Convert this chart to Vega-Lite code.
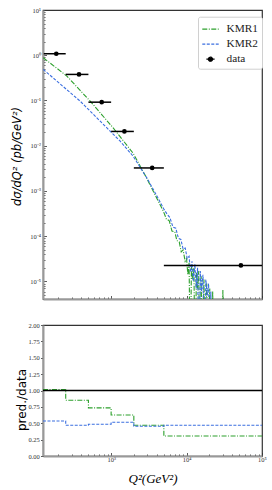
{
  "$schema": "https://vega.github.io/schema/vega-lite/v6.json",
  "padding": {"left": 10, "top": 6, "right": 4, "bottom": 2},
  "background": "white",
  "config": {
    "font": "Liberation Sans Narrow",
    "view": {"stroke": "#333", "strokeWidth": 1.2},
    "axis": {
      "domainColor": "#999", "domainWidth": 2, "tickColor": "#333", "tickWidth": 0.8,
      "labelColor": "#333", "labelFont": "Liberation Sans Narrow", "labelFontSize": 6.5,
      "labelOverlap": false, "labelBound": false, "labelFlush": false, "grid": false,
      "titleFontWeight": "normal", "titleColor": "black"
    }
  },
  "datasets": {
    "curves": [
      {"series": "KMR1", "q2": 126, "v": 0.88},
      {"series": "KMR1", "q2": 180, "v": 0.555},
      {"series": "KMR1", "q2": 259, "v": 0.346},
      {"series": "KMR1", "q2": 380, "v": 0.174},
      {"series": "KMR1", "q2": 528, "v": 0.0966},
      {"series": "KMR1", "q2": 750, "v": 0.0489},
      {"series": "KMR1", "q2": 1064, "v": 0.0248},
      {"series": "KMR1", "q2": 1450, "v": 0.0129},
      {"series": "KMR1", "q2": 1959, "v": 0.00683},
      {"series": "KMR1", "q2": 2972, "v": 0.0019},
      {"series": "KMR1", "q2": 4000, "v": 0.00071},
      {"series": "KMR1", "q2": 4932, "v": 0.000355},
      {"series": "KMR1", "q2": 5400, "v": 0.00024},
      {"series": "KMR1", "q2": 5900, "v": 0.00022},
      {"series": "KMR1", "q2": 6400, "v": 0.00013},
      {"series": "KMR1", "q2": 7000, "v": 0.000125},
      {"series": "KMR1", "q2": 7430, "v": 0.00008},
      {"series": "KMR1", "q2": 8000, "v": 0.000075},
      {"series": "KMR1", "q2": 8500, "v": 0.000045},
      {"series": "KMR1", "q2": 9000, "v": 0.00005},
      {"series": "KMR1", "q2": 9570, "v": 0.000028},
      {"series": "KMR1", "q2": 10000, "v": 0.000032},
      {"series": "KMR1", "q2": 10400, "v": 0.000014},
      {"series": "KMR1", "q2": 10800, "v": 0.000026},
      {"series": "KMR1", "q2": 11200, "v": 0.0000001},
      {"series": "KMR1", "q2": 11600, "v": 0.000022},
      {"series": "KMR1", "q2": 12000, "v": 0.000011},
      {"series": "KMR1", "q2": 12500, "v": 0.00002},
      {"series": "KMR1", "q2": 13000, "v": 0.0000001},
      {"series": "KMR1", "q2": 13500, "v": 0.000016},
      {"series": "KMR1", "q2": 14000, "v": 0.000007},
      {"series": "KMR1", "q2": 14500, "v": 0.000017},
      {"series": "KMR1", "q2": 15000, "v": 0.0000001},
      {"series": "KMR1", "q2": 15600, "v": 0.000013},
      {"series": "KMR1", "q2": 16200, "v": 0.0000001},
      {"series": "KMR1", "q2": 17000, "v": 0.000011},
      {"series": "KMR1", "q2": 17700, "v": 0.0000001},
      {"series": "KMR1", "q2": 18500, "v": 0.000009},
      {"series": "KMR1", "q2": 19400, "v": 0.0000001},
      {"series": "KMR1", "q2": 20300, "v": 0.000007},
      {"series": "KMR1", "q2": 21200, "v": 0.0000001},
      {"series": "KMR1", "q2": 22200, "v": 0.000006},
      {"series": "KMR1", "q2": 23000, "v": 0.0000001},
      {"series": "KMR1", "q2": 29500, "v": 0.0000001},
      {"series": "KMR1", "q2": 30300, "v": 0.0000065},
      {"series": "KMR1", "q2": 31000, "v": 0.0000001},
      {"series": "KMR2", "q2": 126, "v": 0.486},
      {"series": "KMR2", "q2": 191, "v": 0.268},
      {"series": "KMR2", "q2": 270, "v": 0.163},
      {"series": "KMR2", "q2": 389, "v": 0.0966},
      {"series": "KMR2", "q2": 530, "v": 0.0577},
      {"series": "KMR2", "q2": 716, "v": 0.0349},
      {"series": "KMR2", "q2": 1000, "v": 0.02},
      {"series": "KMR2", "q2": 1318, "v": 0.0126},
      {"series": "KMR2", "q2": 1959, "v": 0.00586},
      {"series": "KMR2", "q2": 3000, "v": 0.0019},
      {"series": "KMR2", "q2": 4000, "v": 0.0008},
      {"series": "KMR2", "q2": 5000, "v": 0.0004},
      {"series": "KMR2", "q2": 5500, "v": 0.00031},
      {"series": "KMR2", "q2": 6000, "v": 0.00026},
      {"series": "KMR2", "q2": 6600, "v": 0.00016},
      {"series": "KMR2", "q2": 7200, "v": 0.00015},
      {"series": "KMR2", "q2": 7800, "v": 0.00009},
      {"series": "KMR2", "q2": 8400, "v": 0.000085},
      {"series": "KMR2", "q2": 9000, "v": 0.000052},
      {"series": "KMR2", "q2": 9600, "v": 0.000055},
      {"series": "KMR2", "q2": 10200, "v": 0.000032},
      {"series": "KMR2", "q2": 10800, "v": 0.000036},
      {"series": "KMR2", "q2": 11300, "v": 0.000016},
      {"series": "KMR2", "q2": 11800, "v": 0.000028},
      {"series": "KMR2", "q2": 12300, "v": 0.00001},
      {"series": "KMR2", "q2": 12900, "v": 0.000024},
      {"series": "KMR2", "q2": 13400, "v": 0.000007},
      {"series": "KMR2", "q2": 14000, "v": 0.00002},
      {"series": "KMR2", "q2": 14600, "v": 0.0000001},
      {"series": "KMR2", "q2": 15200, "v": 0.000017},
      {"series": "KMR2", "q2": 15800, "v": 0.000006},
      {"series": "KMR2", "q2": 16500, "v": 0.000014},
      {"series": "KMR2", "q2": 17200, "v": 0.0000001},
      {"series": "KMR2", "q2": 18000, "v": 0.000011},
      {"series": "KMR2", "q2": 18800, "v": 0.000005},
      {"series": "KMR2", "q2": 19600, "v": 0.000009},
      {"series": "KMR2", "q2": 20400, "v": 0.0000001},
      {"series": "KMR2", "q2": 21000, "v": 0.000006},
      {"series": "KMR2", "q2": 21600, "v": 0.0000001}
    ],
    "ratio": [
      {"series": "KMR1", "q2": 125, "r": 1.015},
      {"series": "KMR1", "q2": 250, "r": 0.852},
      {"series": "KMR1", "q2": 500, "r": 0.734},
      {"series": "KMR1", "q2": 1000, "r": 0.627},
      {"series": "KMR1", "q2": 2000, "r": 0.47},
      {"series": "KMR1", "q2": 5000, "r": 0.306},
      {"series": "KMR1", "q2": 100000, "r": 0.306},
      {"series": "KMR2", "q2": 125, "r": 0.535},
      {"series": "KMR2", "q2": 250, "r": 0.47},
      {"series": "KMR2", "q2": 500, "r": 0.485},
      {"series": "KMR2", "q2": 1000, "r": 0.515},
      {"series": "KMR2", "q2": 2000, "r": 0.455},
      {"series": "KMR2", "q2": 5000, "r": 0.47},
      {"series": "KMR2", "q2": 100000, "r": 0.47},
      {"series": "unity", "q2": 125, "r": 1},
      {"series": "unity", "q2": 100000, "r": 1}
    ],
    "points": [
      {"q2": 187.5, "lo": 128, "hi": 250, "v": 1.08},
      {"q2": 375, "lo": 250, "hi": 500, "v": 0.377},
      {"q2": 750, "lo": 500, "hi": 1000, "v": 0.0918},
      {"q2": 1500, "lo": 1000, "hi": 2000, "v": 0.0207},
      {"q2": 3500, "lo": 2000, "hi": 5000, "v": 0.00323},
      {"q2": 52500, "lo": 5000, "hi": 100000, "v": 0.0000226}
    ]
  },
  "spacing": 21,
  "resolve": {"scale": {"color": "independent", "strokeDash": "independent", "x": "independent", "y": "independent"}, "legend": {"color": "independent"}},
  "vconcat": [
    {
      "width": 219,
      "height": 289,
      "layer": [
        {
          "data": {"name": "curves"},
          "mark": {"type": "line", "strokeWidth": 1.1, "clip": true},
          "encoding": {
            "x": {"field": "q2", "type": "quantitative",
              "scale": {"type": "log", "domain": [125, 100000], "nice": false},
              "axis": {"title": null, "labels": false,
                "values": [200,300,400,500,600,700,800,900,1000,2000,3000,4000,5000,6000,7000,8000,9000,10000,20000,30000,40000,50000,60000,70000,80000,90000,100000],
                "tickSize": {"condition": {"test": "abs(log(datum.value)/LN10 - round(log(datum.value)/LN10)) < 0.001", "value": -3.5}, "value": -2}}},
            "y": {"field": "v", "type": "quantitative",
              "scale": {"type": "log", "domain": [0.0000041, 10], "nice": false},
              "axis": {"title": "dσ/dQ² (pb/GeV²)", "titleFont": "DejaVu Sans", "titleFontStyle": "italic", "titleFontSize": 11.5,
                "titleX": -26, "titleY": 146, "titleBaseline": "middle", "labelPadding": 6, "labelOverlap": false,
                "values": [0.000005,0.000006,0.000007,0.000008,0.000009,0.00001,0.00002,0.00003,0.00004,0.00005,0.00006,0.00007,0.00008,0.00009,0.0001,0.0002,0.0003,0.0004,0.0005,0.0006,0.0007,0.0008,0.0009,0.001,0.002,0.003,0.004,0.005,0.006,0.007,0.008,0.009,0.01,0.02,0.03,0.04,0.05,0.06,0.07,0.08,0.09,0.1,0.2,0.3,0.4,0.5,0.6,0.7,0.8,0.9,1,2,3,4,5,6,7,8,9,10],
                "tickSize": {"condition": {"test": "abs(log(datum.value)/LN10 - round(log(datum.value)/LN10)) < 0.001", "value": -3.5}, "value": -2},
                "labelExpr": "abs(log(datum.value)/LN10 - round(log(datum.value)/LN10)) < 0.001 ? (round(log(datum.value)/LN10) == 1 ? '10¹' : round(log(datum.value)/LN10) == 0 ? '10⁰' : round(log(datum.value)/LN10) == -1 ? '10⁻¹' : round(log(datum.value)/LN10) == -2 ? '10⁻²' : round(log(datum.value)/LN10) == -3 ? '10⁻³' : round(log(datum.value)/LN10) == -4 ? '10⁻⁴' : round(log(datum.value)/LN10) == -5 ? '10⁻⁵' : '') : ''"}},
            "color": {"field": "series", "type": "nominal",
              "scale": {"domain": ["KMR1", "KMR2", "data"], "range": ["#2ca02c", "#3b6fe0", "black"]},
              "legend": {"title": null, "orient": "none", "legendX": 155, "legendY": 6.7,
                "symbolType": "stroke", "symbolSize": 270, "symbolStrokeWidth": 1.2,
                "labelFont": "Liberation Sans Narrow", "labelFontSize": 11.3, "labelColor": "#222",
                "padding": 3.5, "rowPadding": 0, "labelOffset": 7,
                "strokeColor": "#d0d0d0", "fillColor": "white", "cornerRadius": 2,
                "encode": {"symbols": {"update": {
                  "strokeDash": [{"test": "datum.label === 'KMR1'", "value": [5, 1.5, 1, 1.5]}, {"test": "datum.label === 'KMR2'", "value": [3, 1.5]}, {"value": [1, 0]}],
                  "shape": [{"test": "datum.label === 'data'", "value": "M-0.5,0H0.5M-0.25,0A0.25,0.25 0 1,0 0.25,0A0.25,0.25 0 1,0 -0.25,0Z"}, {"value": "stroke"}],
                  "fill": [{"test": "datum.label === 'data'", "value": "black"}, {"value": "transparent"}]
                }}}}},
            "strokeDash": {"field": "series", "type": "nominal",
              "scale": {"domain": ["KMR1", "KMR2"], "range": [[5, 1.5, 1, 1.5], [3, 1.5]]}, "legend": null}
          }
        },
        {
          "data": {"name": "points"},
          "mark": {"type": "rule", "color": "black", "strokeWidth": 1.5, "clip": true},
          "encoding": {
            "x": {"field": "lo", "type": "quantitative"},
            "x2": {"field": "hi"},
            "y": {"field": "v", "type": "quantitative"}
          }
        },
        {
          "data": {"name": "points"},
          "mark": {"type": "point", "filled": true, "color": "black", "opacity": 1, "size": 22, "shape": "circle"},
          "encoding": {
            "x": {"field": "q2", "type": "quantitative"},
            "y": {"field": "v", "type": "quantitative"}
          }
        }
      ]
    },
    {
      "width": 219,
      "height": 131,
      "encoding": {
        "x": {"field": "q2", "type": "quantitative",
          "scale": {"type": "log", "domain": [125, 100000], "nice": false},
          "axis": {"title": "Q²(GeV²)", "titleFont": "Liberation Sans Narrow", "titleFontStyle": "italic", "titleFontSize": 13,
            "titleY": 22, "titleBaseline": "middle", "labelPadding": 4,
            "values": [200,300,400,500,600,700,800,900,1000,2000,3000,4000,5000,6000,7000,8000,9000,10000,20000,30000,40000,50000,60000,70000,80000,90000,100000],
            "tickSize": {"condition": {"test": "abs(log(datum.value)/LN10 - round(log(datum.value)/LN10)) < 0.001", "value": -3.5}, "value": -2},
            "labelExpr": "abs(log(datum.value)/LN10 - round(log(datum.value)/LN10)) < 0.001 ? (round(log(datum.value)/LN10) == 3 ? '10³' : round(log(datum.value)/LN10) == 4 ? '10⁴' : round(log(datum.value)/LN10) == 5 ? '10⁵' : '') : ''"}},
        "y": {"field": "r", "type": "quantitative",
          "scale": {"domain": [0, 2], "nice": false, "zero": false},
          "axis": {"title": "pred./data", "titleFont": "DejaVu Sans", "titleFontSize": 12,
            "titleX": -21.3, "titleY": 74.5, "titleBaseline": "middle", "labelOverlap": false,
            "values": [0, 0.25, 0.5, 0.75, 1, 1.25, 1.5, 1.75, 2], "format": ".2f",
            "tickSize": 2.5, "labelPadding": 1.2}}
      },
      "layer": [
        {
          "data": {"name": "ratio"},
          "transform": [{"filter": "datum.series === 'KMR1'"}],
          "mark": {"type": "line", "interpolate": "step-after", "color": "#2ca02c", "strokeWidth": 1.1, "strokeDash": [5, 1.5, 1, 1.5]}
        },
        {
          "data": {"name": "ratio"},
          "transform": [{"filter": "datum.series === 'KMR2'"}],
          "mark": {"type": "line", "interpolate": "step-after", "color": "#3b6fe0", "strokeWidth": 1.1, "strokeDash": [3, 1.5]}
        },
        {
          "data": {"name": "ratio"},
          "transform": [{"filter": "datum.series === 'unity'"}],
          "mark": {"type": "line", "color": "black", "strokeWidth": 1.5}
        }
      ]
    }
  ]
}
